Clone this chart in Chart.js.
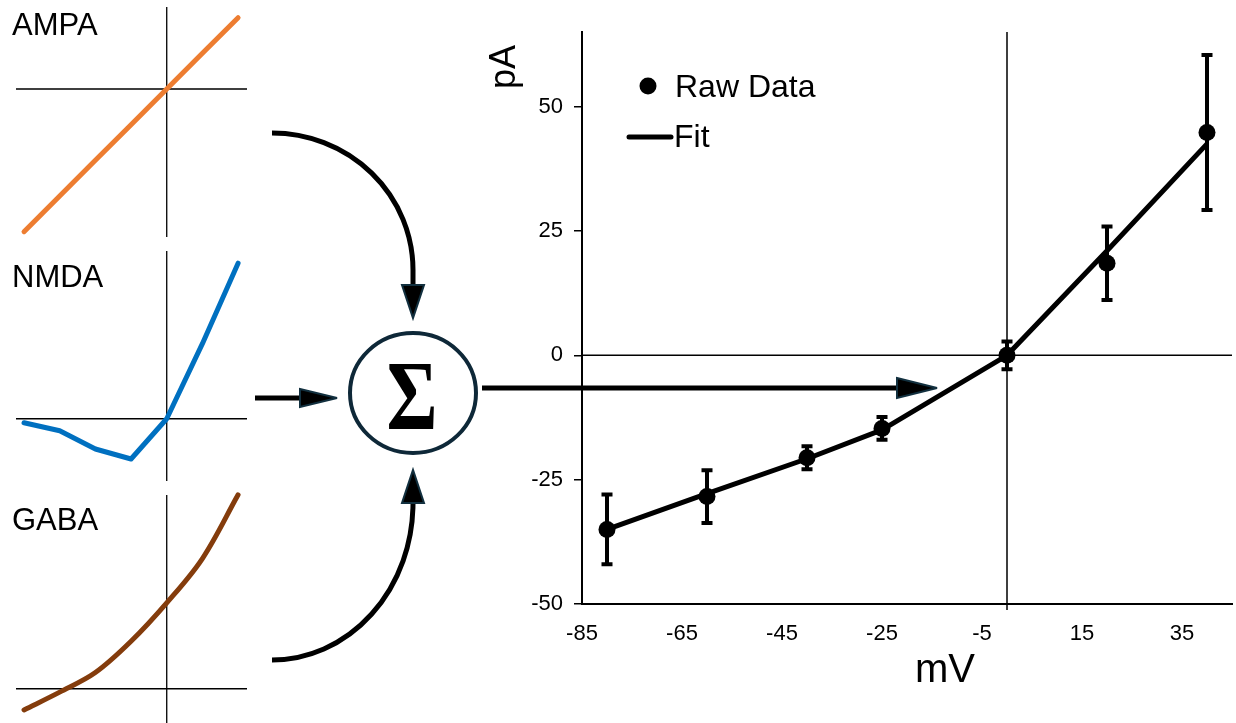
<!DOCTYPE html>
<html>
<head>
<meta charset="utf-8">
<script src="https://cdn.jsdelivr.net/npm/chart.js@4.4.1/dist/chart.umd.min.js"></script>
<style>
  html, body { margin: 0; padding: 0; background: #fff; }
  #page { position: relative; width: 1236px; height: 723px; overflow: hidden; font-family: "Liberation Sans", Arial, sans-serif; }
  canvas { position: absolute; }
  #overlay { position: absolute; left: 0; top: 0; pointer-events: none; }
</style>
</head>
<body>
<div id="page">
  <canvas id="ampaChart" width="247" height="246" style="left:8px;top:-1px"></canvas>
  <canvas id="nmdaChart" width="247" height="246" style="left:8px;top:243px"></canvas>
  <canvas id="gabaChart" width="247" height="246" style="left:8px;top:487px"></canvas>
  <canvas id="ivChart" width="796" height="723" style="left:440px;top:0px"></canvas>

  <svg id="overlay" width="1236" height="723" font-family="Liberation Sans, Arial, sans-serif">
    <text x="12" y="35" font-size="31">AMPA</text>
    <text x="12" y="287" font-size="31">NMDA</text>
    <text x="12" y="530" font-size="31">GABA</text>

    <!-- arrows into the sum -->
    <path d="M272,133 A141,137 0 0 1 413,270 L413,287" stroke="#000" stroke-width="5" fill="none"/>
    <polygon points="402,285 424,285 413,318" fill="#000" stroke="#12303f" stroke-width="2"/>
    <path d="M255,398 L302,398" stroke="#000" stroke-width="5" fill="none"/>
    <polygon points="300,389 337,398 300,407" fill="#000" stroke="#12303f" stroke-width="2"/>
    <path d="M272,660 A141,157 0 0 0 413,503 L413,501" stroke="#000" stroke-width="5" fill="none"/>
    <polygon points="402,503 424,503 413,470" fill="#000" stroke="#12303f" stroke-width="2"/>

    <ellipse cx="413" cy="393" rx="63" ry="60" fill="none" stroke="#0e2838" stroke-width="4"/>
    <text transform="translate(412,429) scale(0.78,1)" text-anchor="middle" font-family="Liberation Serif, Times New Roman, serif" font-weight="bold" font-size="100">Σ</text>

    <!-- arrow out to the I-V plot -->
    <path d="M482,388 L899,388" stroke="#000" stroke-width="5" fill="none"/>
    <polygon points="897,378 937,388 897,398" fill="#000" stroke="#12303f" stroke-width="2"/>

    <text transform="translate(515,67) rotate(-90)" text-anchor="middle" font-size="36">pA</text>
    <text x="945" y="682" text-anchor="middle" font-size="40">mV</text>
  </svg>
</div>

<script>
// I-V data (right plot)
const mvValues = [-80, -60, -40, -25, 0, 20, 40];
const rawCurrent = [-35, -28.4, -20.6, -14.7, 0, 18.5, 44.8];
const rawError = [7, 5.3, 2.3, 2.3, 2.8, 7.4, 15.6];
const fitCurrent = [-35, -27.8, -20.8, -15, 0, 21, 42.5];
const xTickValues = [-85, -65, -45, -25, -5, 15, 35];
const yTickValues = [-50, -25, 0, 25, 50];

// small receptor panels (left)
const panelVoltages = [-80, -60, -40, -20, 0, 20, 40];
const ampaCurrent = [-80, -60, -40, -20, 0, 20, 40];
const nmdaCurrent = [-2.2, -6.7, -16.9, -22.5, 0, 42, 87];
const gabaCurrent = [-11.8, -1.9, 9, 26.4, 47.8, 72.5, 108];

Chart.defaults.font.family = '"Liberation Sans", Arial, sans-serif';
Chart.defaults.color = "#000";

const toPoints = (xs, ys) => xs.map((x, i) => ({ x: x, y: ys[i] }));

// draws the x = 0 and y = 0 lines
const zeroLines = {
  id: "zeroLines",
  beforeDatasetsDraw(chart, args, opts) {
    const { ctx, chartArea, scales } = chart;
    const x0 = scales.x.getPixelForValue(0);
    const y0 = scales.y.getPixelForValue(0);
    ctx.save();
    ctx.strokeStyle = "#000";
    ctx.lineWidth = opts.width || 1.5;
    ctx.beginPath();
    ctx.moveTo(x0, chartArea.top);
    ctx.lineTo(x0, chartArea.bottom + (opts.extend || 0));
    ctx.moveTo(chartArea.left, y0);
    ctx.lineTo(chartArea.right, y0);
    ctx.stroke();
    ctx.restore();
  }
};

function makePanel(id, values, color, yMin, yMax, smooth) {
  return new Chart(document.getElementById(id), {
    type: "line",
    data: {
      datasets: [{
        data: toPoints(panelVoltages, values),
        borderColor: color,
        borderWidth: 5,
        borderCapStyle: "round",
        borderJoinStyle: "round",
        pointRadius: 0,
        tension: smooth ? 0.35 : 0,
        clip: false
      }]
    },
    options: {
      responsive: false,
      animation: false,
      devicePixelRatio: 1,
      layout: { padding: 8, autoPadding: false },
      plugins: { legend: { display: false }, tooltip: { enabled: false }, zeroLines: { width: 1.3 } },
      scales: {
        x: { type: "linear", min: -84.5, max: 45, display: false },
        y: { type: "linear", min: yMin, max: yMax, display: false }
      }
    },
    plugins: [zeroLines]
  });
}

makePanel("ampaChart", ampaCurrent, "#ed7d31", -83, 46, false);
makePanel("nmdaChart", nmdaCurrent, "#0070c0", -34.8, 93.8, false);
makePanel("gabaChart", gabaCurrent, "#843c0c", -20.2, 107.9, true);

const errorBars = {
  id: "errorBars",
  afterDatasetsDraw(chart) {
    const { ctx, scales } = chart;
    ctx.save();
    ctx.strokeStyle = "#000";
    ctx.lineWidth = 4;
    mvValues.forEach((v, i) => {
      const x = scales.x.getPixelForValue(v);
      const yTop = scales.y.getPixelForValue(rawCurrent[i] + rawError[i]);
      const yBot = scales.y.getPixelForValue(rawCurrent[i] - rawError[i]);
      ctx.beginPath();
      ctx.moveTo(x, yTop);
      ctx.lineTo(x, yBot);
      ctx.moveTo(x - 5.5, yTop);
      ctx.lineTo(x + 5.5, yTop);
      ctx.moveTo(x - 5.5, yBot);
      ctx.lineTo(x + 5.5, yBot);
      ctx.stroke();
    });
    ctx.restore();
  }
};

const insideLegend = {
  id: "insideLegend",
  afterDraw(chart) {
    const { ctx, chartArea } = chart;
    const sets = chart.data.datasets;
    const left = chartArea.left;
    const top = chartArea.top;
    ctx.save();
    ctx.fillStyle = "#000";
    ctx.font = '32px "Liberation Sans", Arial, sans-serif';
    ctx.textBaseline = "alphabetic";
    ctx.beginPath();
    ctx.arc(left + 66, top + 54, 8.5, 0, Math.PI * 2);
    ctx.fill();
    ctx.fillText(sets[0].label, left + 93, top + 65);
    ctx.strokeStyle = "#000";
    ctx.lineWidth = 5;
    ctx.lineCap = "round";
    ctx.beginPath();
    ctx.moveTo(left + 47, top + 105);
    ctx.lineTo(left + 89, top + 105);
    ctx.stroke();
    ctx.fillText(sets[1].label, left + 92, top + 115);
    ctx.restore();
  }
};

new Chart(document.getElementById("ivChart"), {
  type: "line",
  data: {
    datasets: [
      {
        label: "Raw Data",
        data: toPoints(mvValues, rawCurrent),
        showLine: false,
        pointRadius: 8.5,
        pointBackgroundColor: "#000",
        pointBorderWidth: 0,
        borderColor: "#000",
        clip: false
      },
      {
        label: "Fit",
        data: toPoints(mvValues, fitCurrent),
        borderColor: "#000",
        borderWidth: 5,
        borderJoinStyle: "round",
        pointRadius: 0,
        tension: 0,
        clip: false
      }
    ]
  },
  options: {
    responsive: false,
    animation: false,
    devicePixelRatio: 1,
    layout: { padding: { top: 32, right: 4, left: 0, bottom: 0 }, autoPadding: false },
    plugins: { legend: { display: false }, tooltip: { enabled: false }, zeroLines: { width: 1.5, extend: 6 } },
    scales: {
      x: {
        type: "linear",
        min: -85,
        max: 45,
        afterBuildTicks: s => { s.ticks = xTickValues.map(v => ({ value: v })); },
        afterFit: s => { s.height = 119; },
        border: { color: "#000", width: 2 },
        grid: { drawOnChartArea: false, drawTicks: false },
        ticks: { color: "#000", font: { size: 22 }, padding: 17, autoSkip: false, maxRotation: 0 }
      },
      y: {
        type: "linear",
        min: -50,
        max: 65,
        afterBuildTicks: s => { s.ticks = yTickValues.map(v => ({ value: v })); },
        afterFit: s => { s.width = 142; },
        border: { color: "#000", width: 2 },
        grid: { drawOnChartArea: false, drawTicks: true, tickLength: 8, color: "#000", lineWidth: 1.5 },
        ticks: { color: "#000", font: { size: 22 }, padding: 11 }
      }
    }
  },
  plugins: [zeroLines, errorBars, insideLegend]
});
</script>
</body>
</html>
